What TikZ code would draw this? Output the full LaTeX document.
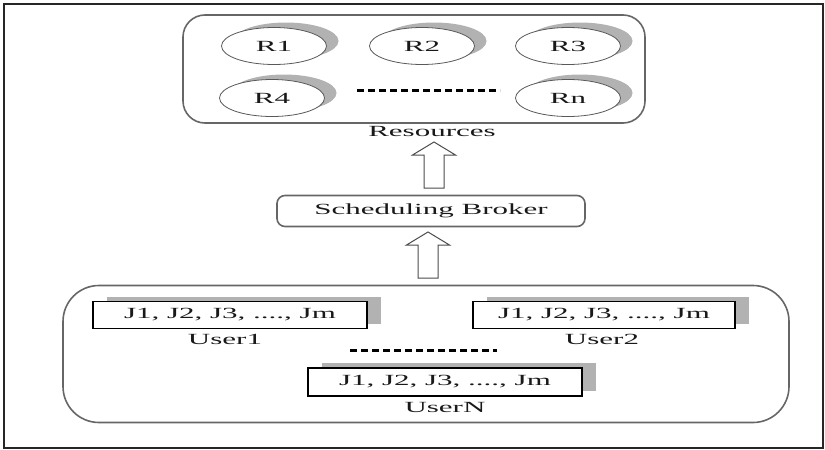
\documentclass[tikz,border=0pt]{standalone}
\usepackage{fontspec}
\setmainfont{Liberation Serif}
\usetikzlibrary{shapes.geometric,shadows}
\newcommand{\wt}[1]{\scalebox{2}[1]{#1}}
\begin{document}
\begin{tikzpicture}[x=1pt,y=-1pt,
  txt/.style={text=black!90, font=\fontsize{15.5}{15.5}\selectfont, inner sep=0pt},
  res/.style={ellipse, draw=black!65, line width=0.8pt, fill=white,
    minimum width=105pt, minimum height=37pt, inner sep=0pt, txt,
    general shadow={fill=black!30, shadow xshift=12pt, shadow yshift=5pt}},
  job/.style={draw=black, line width=1.2pt, fill=white, minimum height=27pt,
    inner sep=0pt, txt,
    general shadow={fill=black!30, shadow xshift=14pt, shadow yshift=5pt}},
  grp/.style={draw=black!60, line width=1.6pt},
  harrow/.style={draw=black!70, line width=1pt, fill=white},
  dots/.style={draw=black, line width=3pt, dash pattern=on 7pt off 4pt}]
\useasboundingbox (0,0) rectangle (825,450);
\draw[line width=2pt, black!85] (4,4) rectangle (823,448);

% Resources group
\node[grp, rounded corners=22pt, minimum width=462pt, minimum height=108pt] (resbox) at (414,69) {};
\node[res] (r1) at (274,46) {\wt{R1}};
\node[res] (r2) at (422,46) {\wt{R2}};
\node[res] (r3) at (568,46) {\wt{R3}};
\node[res] (r4) at (272,98) {\wt{R4}};
\node[res] (rn) at (568,98) {\wt{Rn}};
\coordinate (da) at (357,90);
\coordinate (db) at (500,90);
\draw[dots] (da) -- (db);
\node[txt] (reslab) at (432,131) {\wt{Resources}};

% Broker
\node[grp, rounded corners=8pt, minimum width=308pt, minimum height=31pt, txt] (broker) at (431,211) {\wt{Scheduling Broker}};

% Users group
\node[grp, rounded corners=36pt, minimum width=726pt, minimum height=137pt] (users) at (426,354) {};
\node[job, minimum width=274pt] (u1) at (230,315) {\wt{J1, J2, J3, ...., Jm}};
\node[job, minimum width=262pt] (u2) at (604,315) {\wt{J1, J2, J3, ...., Jm}};
\node[job, minimum width=274pt, minimum height=28pt] (un) at (445,382) {\wt{J1, J2, J3, ...., Jm}};
\node[txt] (l1) at (225,339) {\wt{User1}};
\node[txt] (l2) at (602,339) {\wt{User2}};
\node[txt] (ln) at (445,407) {\wt{UserN}};
\coordinate (ua) at (350,350);
\coordinate (ub) at (497,350);
\draw[dots] (ua) -- (ub);

% Hollow arrows
\coordinate (t1) at (434,142);
\draw[harrow] (t1) -- ++(21.5,13) -- ++(-11.5,0) -- ++(0,33) -- ++(-20,0) -- ++(0,-33) -- ++(-11.5,0) -- cycle;
\coordinate (t2) at (428,232);
\draw[harrow] (t2) -- ++(21.5,13) -- ++(-11.5,0) -- ++(0,33) -- ++(-20,0) -- ++(0,-33) -- ++(-11.5,0) -- cycle;
\end{tikzpicture}
\end{document}
